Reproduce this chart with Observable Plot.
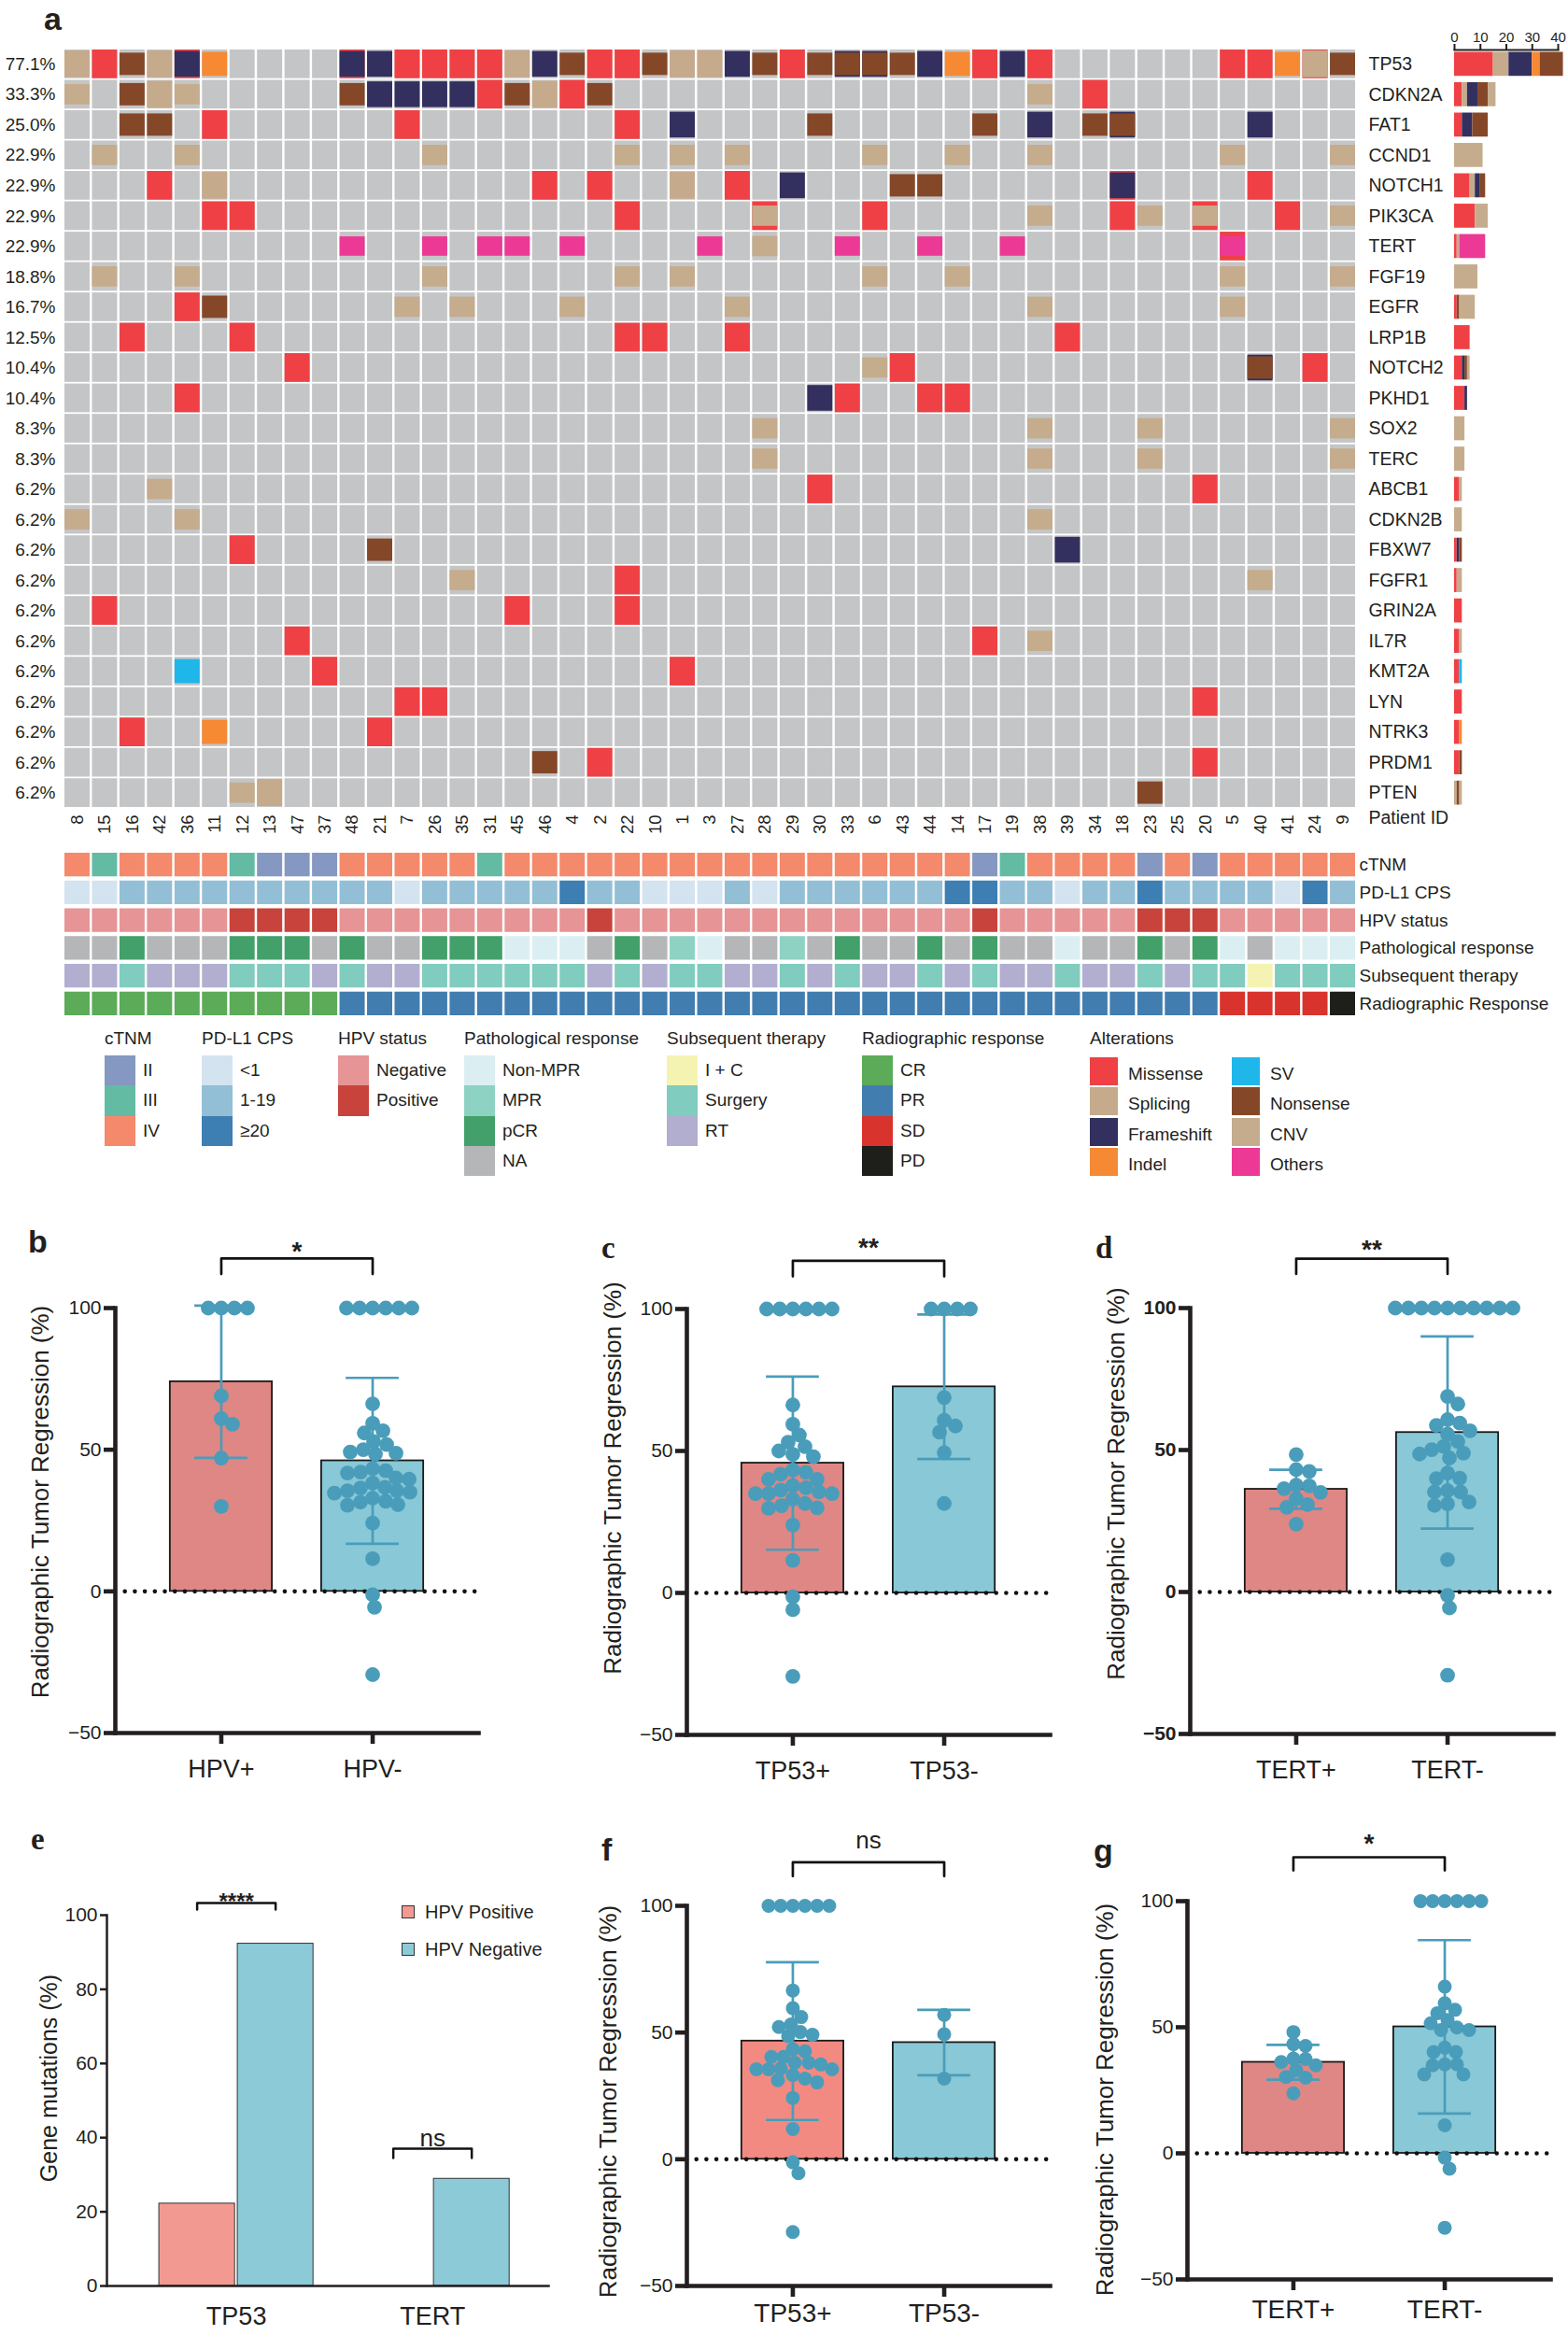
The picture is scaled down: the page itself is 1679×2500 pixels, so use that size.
<!DOCTYPE html>
<html><head><meta charset="utf-8">
<script src="https://cdn.jsdelivr.net/npm/d3@7"></script>
<script src="https://cdn.jsdelivr.net/npm/@observablehq/plot@0.6"></script>
<style>
body{margin:0;background:#fff;font-family:"Liberation Sans",Arial,Helvetica,sans-serif;color:#231f20;}
#page{position:relative;width:1679px;height:2500px;overflow:hidden;background:#fff;}
.letter{position:absolute;font-weight:bold;line-height:1;color:#231f20;}
.lgTitle{position:absolute;font-size:19px;line-height:24px;white-space:nowrap;}
.lgSw{position:absolute;}
.lgLab{position:absolute;font-size:19px;white-space:nowrap;}
</style></head><body><div id="page"></div>
<script>
// ---------------- DATA ----------------
const patients = ["8","15","16","42","36","11","12","13","47","37","48","21","7","26","35","31","45","46","4","2","22","10","1","3","27","28","29","30","33","6","43","44","14","17","19","38","39","34","18","23","25","20","5","40","41","24","9"];
const genes = ["TP53","CDKN2A","FAT1","CCND1","NOTCH1","PIK3CA","TERT","FGF19","EGFR","LRP1B","NOTCH2","PKHD1","SOX2","TERC","ABCB1","CDKN2B","FBXW7","FGFR1","GRIN2A","IL7R","KMT2A","LYN","NTRK3","PRDM1","PTEN"];
const pctLabels = ["77.1%","33.3%","25.0%","22.9%","22.9%","22.9%","22.9%","18.8%","16.7%","12.5%","10.4%","10.4%","8.3%","8.3%","6.2%","6.2%","6.2%","6.2%","6.2%","6.2%","6.2%","6.2%","6.2%","6.2%","6.2%"];
// one character per patient (order above): M missense, S splicing, F frameshift, I indel, V SV, N nonsense, C CNV, O others
const altRows = [
 "SMNSFI.... FFMMMMSFNM MNSSFNMNNN NFIMFM.... ..MMISN",
 "C.NSC..... NFFFFMNSMN .......... .....C.M.. .......",
 "..NN.M.... ..M....... M.F....N.. ...N.F.NN. ...F...",
 ".C..C..... ...C...... C.C.C....C ..C..C.... ..C...C",
 "...M.S.... .......M.M ..S.M.F... NN......F. ...M...",
 ".....MM... .......... M....C...M .....C..MC .C..M.C",
 ".......... O..O.OO.O. ...O.C..O. .O..O..... ..O....",
 ".C..C..... ...C...... C.C......C ..C....... ..C...C",
 "....MN.... ..C.C...C. ....C..... .....C.... ..C....",
 "..M...M... .......... MM..M..... ......M... .......",
 "........M. .......... .........C M......... ...N.M.",
 "....M..... .......... .......FM. .MM....... .......",
 ".......... .......... .....C.... .....C...C ......C",
 ".......... .......... .....C.... .....C...C ......C",
 "...C...... .......... .......M.. .......... .M.....",
 "C...C..... .......... .......... .....C.... .......",
 "......M... .N........ .......... ......F... .......",
 ".......... ....C..... M......... .......... ...C...",
 ".M........ ......M... M......... .......... .......",
 "........M. .......... .......... ...M.C.... .......",
 "....V....M .......... ..M....... .......... .......",
 ".......... ..MM...... .......... .......... .M.....",
 "..M..I.... .M........ .......... .......... .......",
 ".......... .......N.M .......... .......... .M.....",
 "......CS.. .......... .......... .........N ......."
];
const secondaryAlts = [["TP53","36","M"],["TP53","48","M"],["TP53","33","F"],["TP53","6","F"],["TP53","24","M"],["FAT1","18","F"],["NOTCH1","18","M"],["PIK3CA","28","M"],["PIK3CA","20","M"],["TERT","5","M"],["NOTCH2","40","F"]];
const altCodes = {M:"Missense",S:"Splicing",F:"Frameshift",I:"Indel",V:"SV",N:"Nonsense",C:"CNV",O:"Others"};
const altTypes = ["Missense","Splicing","Frameshift","Indel","SV","Nonsense","CNV","Others"];
const altColors = ["#ef4145","#c5aa8b","#33305f","#f68934","#1fb6ea","#844829","#c5ac8d","#ec3996"];

// annotation tracks (one character per patient)
const trackNames = ["cTNM","PD-L1 CPS","HPV status","Pathological response","Subsequent therapy","Radiographic Response"];
const cTNMCodes  = "4344443222 4444434444 4444444444 4442344442 4244444";
const pdl1Codes  = "aabbbbbbbb bbabbbbbcb baaababbbb bbccbbabbc bbbbacb";
const hpvCodes   = "NNNNNNPPPP NNNNNNNNNP NNNNNNNNNN NNNPNNNNNP PPNNNNN";
const pathCodes  = "xxpxxxpppx pxxpppnnnx pxmnxxmxpx xpxpxxnxxp xpnxnnn";
const subCodes   = "rrsrrrsssr srrssssssr srssrrsrsr rsrsrrsrrs rssisss";
const radioCodes = "CCCCCCCCCC PPPPPPPPPP PPPPPPPPPP PPPPPPPPPP PPSSSSD";
const cTNMLevels = ["II","III","IV"], cTNMKeys = ["2","3","4"], cTNMColors = ["#8598c1","#63bba4","#f5896b"];
const pdl1Levels = ["<1","1-19","≥20"], pdl1Keys = ["a","b","c"], pdl1Colors = ["#d4e3f0","#93bfd6","#3d7fb2"];
const hpvLevels = ["Negative","Positive"], hpvKeys = ["N","P"], hpvColors = ["#e69495","#c8433b"];
const pathLevels = ["Non-MPR","MPR","pCR","NA"], pathKeys = ["n","m","p","x"], pathColors = ["#dbeff3","#8ed2c3","#43a06a","#b5b6b8"];
const subLevels = ["I + C","Surgery","RT"], subKeys = ["i","s","r"], subColors = ["#f5f3b1","#80ccbe","#b1aed0"];
const radioLevels = ["CR","PR","SD","PD"], radioKeys = ["C","P","S","D"], radioColors = ["#5bab58","#427db0","#d9332e","#1e1e1b"];

// panels b-d, f-g: radiographic tumor regression (%)
const bGroups = ["HPV+","HPV-"];
const bHpvPos = [100,100,100,100,69,61,59,47,30];
const bHpvNeg = [100,100,100,100,100,100,66.2,59.3,56.7,55.9,52.9,51.8,50,49.2,48.8,48.5,43.3,42.6,42.1,41.8,40,39.6,38.2,36.7,36.5,35.5,35.5,35,34.7,32.9,31.8,31.5,30.4,30.6,24.1,11.5,-1.2,-5.6,-29.4];
const cGroups = ["TP53+","TP53-"];
const cTp53Pos = [100,100,100,100,100,100,66.2,59.4,55.6,53.1,51.5,50,48.8,48,43.3,42.5,41.8,40,40,37.8,37,36.2,35.6,35,35,35,33,31.5,30.7,30,29.8,23.9,11.5,-1.4,-5.9,-29.4];
const cTp53Neg = [100,100,100,100,68.8,60.8,58.8,56.6,49.4,31.5];
const dGroups = ["TERT+","TERT-"];
const dTertPos = [48.4,43.1,42.5,37.4,37.6,36.4,35.1,32.9,30.8,29.8,23.9];
const dTertNeg = [100,100,100,100,100,100,100,100,100,100,68.9,66.2,60.7,59.5,58.7,56.8,55.6,53,51.3,50.1,48.9,48.6,47.2,41.9,40.1,39.9,35.7,35.2,35.2,31.7,31,30.5,11.4,-1.2,-5.6,-29.3];
const fGroups = ["TP53+","TP53-"];
const fTp53Pos = [100,100,100,100,100,100,66.6,59.6,56.1,53.2,52.2,50.2,49.1,48.6,43.4,42.6,40.4,40.4,38.1,38.1,37.4,35.8,35.5,35.5,35.5,33.2,31.8,31.2,30.3,24.2,11.9,-1.2,-5.5,-28.7];
const fTp53Neg = [57,49.3,31.8];
const gGroups = ["TERT+","TERT-"];
const gTertPos = [48.1,43.3,42.6,37.6,37.4,36.2,34.9,33,30.3,30,23.8];
const gTertNeg = [100,100,100,100,100,100,66.1,59.5,56.9,55.6,52.9,51.6,49.9,48.9,48.9,41.9,40.2,40.2,35.3,35.3,34.9,31.3,31.3,11.1,-1.7,-6.1,-29.5];
// panel e: gene mutations (%)
const eGenes = ["TP53","TERT"];
const eHpvPos = [22.2, 0];
const eHpvNeg = [92.3, 28.9];

// ---------------- STYLE ----------------
const fontSans = '"Liberation Sans", Arial, Helvetica, sans-serif';
const fontSerif = '"Liberation Serif", "Times New Roman", serif';
const baseStyle = {fontFamily: fontSans, fontSize: "19px", color: "#231f20", background: "transparent", overflow: "visible", maxWidth: "none"};
const dotColor = "#4a9dba", salmon = "#df8784", blueBar = "#89c8d6";
const altInset = {Missense:0, Splicing:1, Frameshift:1.6, Indel:2.5, SV:2.5, Nonsense:3.4, CNV:4.5, Others:5};

const page = document.getElementById("page");
function place(node, left, top, width, height) {
  const div = document.createElement("div");
  div.style.cssText = `position:absolute;left:${left}px;top:${top}px;width:${width}px;height:${height}px;`;
  div.appendChild(node); page.appendChild(div); return div;
}
function addDiv(cls, css, text) {
  const d = document.createElement("div"); d.className = cls; d.style.cssText = css;
  if (text != null) d.textContent = text; page.appendChild(d); return d;
}
const clean = s => s.replace(/ /g, "").split("");

// ---------------- ONCOPRINT ----------------
const bgCells = d3.cross(genes, patients).map(([gene, patient]) => ({gene, patient}));
const alts = [];
secondaryAlts.forEach(([gene, patient, c]) => alts.push({gene, patient, type: altCodes[c]}));
genes.forEach((gene, gi) => clean(altRows[gi]).forEach((c, pi) => { if (c !== ".") alts.push({gene, patient: patients[pi], type: altCodes[c]}); }));
const altCounts = [];
genes.forEach(gene => altTypes.forEach(type => {
  const n = alts.filter(d => d.gene === gene && d.type === type).length;
  if (n) altCounts.push({gene, type, n});
}));

const onco = Plot.plot({
  width: 1679, height: 900, marginLeft: 69, marginRight: 228, marginTop: 53, marginBottom: 36,
  style: baseStyle,
  x: {type: "band", domain: patients, paddingInner: 0.085, paddingOuter: 0, round: false},
  y: {type: "band", domain: genes, paddingInner: 0.055, paddingOuter: 0, round: false},
  color: {domain: altTypes, range: altColors},
  marks: [
    Plot.cell(bgCells, {x: "patient", y: "gene", fill: "#c4c5c7", inset: 0}),
    ...altTypes.map(t => Plot.cell(alts.filter(d => d.type === t), {x: "patient", y: "gene", fill: "type", inset: 0, insetTop: altInset[t], insetBottom: altInset[t]})),
    Plot.axisY({anchor: "left", tickSize: 0, tickPadding: 10, tickFormat: g => pctLabels[genes.indexOf(g)], fontSize: 19, label: null}),
    Plot.axisY({anchor: "right", tickSize: 0, tickPadding: 14, fontSize: 19.5, label: null}),
    Plot.axisX({anchor: "bottom", tickSize: 0, tickPadding: 8, tickRotate: -90, fontSize: 18.5, label: null}),
    Plot.text(["Patient ID"], {frameAnchor: "bottom-right", textAnchor: "start", dx: 14, dy: 17, fontSize: 19.5})
  ]
});
place(onco, 0, 0, 1679, 900);

const rbar = Plot.plot({
  width: 139, height: 900, marginLeft: 17, marginRight: 11, marginTop: 53, marginBottom: 36,
  style: baseStyle,
  x: {domain: [0, 40]},
  y: {type: "band", domain: genes, paddingInner: 0.055, paddingOuter: 0, round: false, axis: null},
  color: {domain: altTypes, range: altColors},
  marks: [
    Plot.barX(altCounts, {y: "gene", x: "n", fill: "type", insetTop: 2.5, insetBottom: 2.5}),
    Plot.frame({anchor: "top", strokeWidth: 2}),
    Plot.axisX({anchor: "top", ticks: [0, 10, 20, 30, 40], tickSize: 7, tickPadding: 2, strokeWidth: 2, fontSize: 15, label: null})
  ]
});
place(rbar, 1540, 0, 139, 900);

// ---------------- ANNOTATION TRACKS ----------------
const tracks = [
  [cTNMCodes, cTNMKeys, cTNMLevels, cTNMColors],
  [pdl1Codes, pdl1Keys, pdl1Levels, pdl1Colors],
  [hpvCodes, hpvKeys, hpvLevels, hpvColors],
  [pathCodes, pathKeys, pathLevels, pathColors],
  [subCodes, subKeys, subLevels, subColors],
  [radioCodes, radioKeys, radioLevels, radioColors]
];
const trackCells = [];
tracks.forEach(([codes, keys, levels, colors], ti) => clean(codes).forEach((c, pi) => {
  const k = keys.indexOf(c);
  trackCells.push({track: trackNames[ti], patient: patients[pi], value: levels[k], color: colors[k]});
}));
const annot = Plot.plot({
  width: 1679, height: 210, marginLeft: 69, marginRight: 228, marginTop: 23, marginBottom: 13,
  style: baseStyle,
  x: {type: "band", domain: patients, paddingInner: 0.085, paddingOuter: 0, round: false, axis: null},
  y: {type: "band", domain: trackNames, paddingInner: 0.15, paddingOuter: 0, round: false},
  color: {type: "identity"},
  marks: [
    Plot.cell(trackCells, {x: "patient", y: "track", fill: "color", inset: 0}),
    Plot.axisY({anchor: "right", tickSize: 0, tickPadding: 4, fontSize: 19, label: null})
  ]
});
place(annot, 0, 890, 1679, 210);

// ---------------- LEGEND (panel a) ----------------
const legendTitles = ["cTNM","PD-L1 CPS","HPV status","Pathological response","Subsequent therapy","Radiographic response"];
const legendX = [112, 216, 362, 497, 714, 923];
tracks.forEach(([codes, keys, levels, colors], ti) => {
  const x = legendX[ti];
  addDiv("lgTitle", `left:${x}px;top:1100px;`, legendTitles[ti]);
  levels.forEach((lab, j) => {
    const top = 1130 + j * 32.3;
    addDiv("lgSw", `left:${x}px;top:${top}px;width:33px;height:32.3px;background:${colors[j]};`);
    addDiv("lgLab", `left:${x + 41}px;top:${top}px;line-height:32.3px;`, lab);
  });
});
addDiv("lgTitle", "left:1167px;top:1100px;", "Alterations");
altTypes.forEach((t, j) => {
  const x = j < 4 ? 1167 : 1319, top = 1132 + (j % 4) * 32.3;
  addDiv("lgSw", `left:${x}px;top:${top}px;width:30px;height:30px;background:${altColors[j]};`);
  addDiv("lgLab", `left:${x + 41}px;top:${top + 3}px;line-height:30px;`, t);
});

// ---------------- DOT + BAR PANELS ----------------
function swarmOffsets(vals, pxPerUnit, minDist) {
  const idx = d3.range(vals.length).sort((a, b) => d3.descending(vals[a], vals[b]));
  const placed = [], out = new Array(vals.length);
  for (const i of idx) {
    const y = vals[i] * pxPerUnit;
    let best = 0;
    for (let k = 0; k < 600; k++) {
      const c = (k % 2 ? 1 : -1) * Math.ceil(k / 2);
      if (placed.every(p => (p.x - c) ** 2 + (p.y - y) ** 2 >= minDist * minDist)) { best = c; break; }
    }
    placed.push({x: best, y}); out[i] = best;
  }
  return out;
}
const yLabel = "Radiographic Tumor Regression (%)";
function dotBar(o) {
  const dom = [-0.7, 1.7];
  const fw = o.width - o.ml - o.mr, fh = o.height - o.mt - o.mb;
  const pxX = fw / (dom[1] - dom[0]), pxY = fh / 150;
  const pts = [];
  o.values.forEach((vals, g) => {
    const off = swarmOffsets(vals, pxY, o.r * 1.7);
    vals.forEach((v, j) => pts.push({g, v, x: g + off[j] / pxX}));
  });
  const stats = o.values.map((vals, g) => {
    const m = d3.mean(vals), s = d3.deviation(vals);
    return {g, mean: m, lo: m - s, hi: m + s, fill: o.barColors[g]};
  });
  const caps = stats.flatMap(s => [{g: s.g, y: s.lo}, {g: s.g, y: s.hi}]);
  const half = 0.337, cap = 0.175;
  const p = Plot.plot({
    width: o.width, height: o.height, marginLeft: o.ml, marginRight: o.mr, marginTop: o.mt, marginBottom: o.mb,
    style: baseStyle,
    x: {domain: dom},
    y: {domain: [-50, 100]},
    color: {type: "identity"},
    marks: [
      Plot.rectY(stats, {x1: d => d.g - half, x2: d => d.g + half, y1: () => 0, y2: "mean", fill: "fill", stroke: "#1a1a1a", strokeWidth: 1.8}),
      Plot.ruleY([0], {stroke: "#111", strokeWidth: 4.6, strokeDasharray: "0 10.7", strokeLinecap: "round"}),
      Plot.ruleX(stats, {x: "g", y1: "lo", y2: "hi", stroke: dotColor, strokeWidth: 2.7}),
      Plot.ruleY(caps, {y: "y", x1: d => d.g - cap, x2: d => d.g + cap, stroke: dotColor, strokeWidth: 2.7}),
      Plot.dot(pts, {x: "x", y: "v", r: o.r, fill: dotColor, stroke: "none"}),
      Plot.frame({anchor: "left", strokeWidth: 4.6, strokeLinecap: "square"}),
      Plot.frame({anchor: "bottom", strokeWidth: 4.6, strokeLinecap: "square"}),
      Plot.axisY({ticks: [-50, 0, 50, 100], tickSize: 12, tickPadding: 3, strokeWidth: 4.6, fontSize: 21, fontWeight: o.tickBold ? "bold" : "normal", label: null}),
      Plot.axisX({ticks: [0, 1], tickFormat: i => o.groups[i], tickSize: 12, tickPadding: o.xPad, strokeWidth: 4.6, fontSize: o.xFont, label: null}),
      Plot.line([[0, o.sig[1]], [0, o.sig[0]], [1, o.sig[0]], [1, o.sig[1]]], {stroke: "#111", strokeWidth: 2.7}),
      Plot.text([o.sigText], {x: () => 0.5, y: () => o.sig[2], fontSize: o.sigSize, fontWeight: o.sigBold ? "bold" : "normal"}),
      Plot.text([yLabel], {frameAnchor: "left", textAnchor: "middle", rotate: -90, dx: o.ldx, dy: o.ldy, fontSize: 26})
    ]
  });
  place(p, o.left, o.top, o.width, o.height);
}
dotBar({left: 0, top: 1300, width: 560, height: 620, ml: 123, mr: 48, mt: 100, mb: 65, r: 7.9,
  groups: bGroups, values: [bHpvPos, bHpvNeg], barColors: [salmon, blueBar], tickBold: false, xFont: 27, xPad: 16,
  sig: [117.5, 112, 120], sigText: "*", sigSize: 28, sigBold: true, ldx: -80, ldy: -20});
dotBar({left: 560, top: 1300, width: 580, height: 620, ml: 175, mr: 16, mt: 101, mb: 63, r: 7.9,
  groups: cGroups, values: [cTp53Pos, cTp53Neg], barColors: [salmon, blueBar], tickBold: false, xFont: 27, xPad: 16,
  sig: [117, 111.5, 121.5], sigText: "**", sigSize: 28, sigBold: true, ldx: -79, ldy: -47});
dotBar({left: 1119, top: 1300, width: 560, height: 620, ml: 155, mr: 16, mt: 100, mb: 64, r: 7.9,
  groups: dGroups, values: [dTertPos, dTertNeg], barColors: [salmon, blueBar], tickBold: true, xFont: 27, xPad: 16,
  sig: [117.4, 112, 120.5], sigText: "**", sigSize: 28, sigBold: true, ldx: -79, ldy: -40});
dotBar({left: 560, top: 1940, width: 580, height: 560, ml: 175, mr: 16, mt: 100, mb: 53, r: 7.5,
  groups: fGroups, values: [fTp53Pos, fTp53Neg], barColors: ["#f28a82", blueBar], tickBold: false, xFont: 28, xPad: 7,
  sig: [117.2, 111.7, 125.8], sigText: "ns", sigSize: 26, sigBold: false, ldx: -84, ldy: 6});
dotBar({left: 1119, top: 1940, width: 560, height: 560, ml: 152, mr: 19, mt: 95, mb: 60, r: 7.5,
  groups: gGroups, values: [gTertPos, gTertNeg], barColors: [salmon, blueBar], tickBold: false, xFont: 28, xPad: 10,
  sig: [117.4, 112.2, 122.6], sigText: "*", sigSize: 28, sigBold: true, ldx: -88, ldy: 10});

// ---------------- PANEL e ----------------
const eBars = [];
eGenes.forEach((gene, g) => {
  eBars.push({g, x1: g - 0.393, x2: g - 0.007, v: eHpvPos[g], fill: "#f29a92"});
  eBars.push({g, x1: g + 0.007, x2: g + 0.393, v: eHpvNeg[g], fill: "#8ccad8"});
});
const eSig = [[0, 103.3, 101.5, 103.6, "****", true], [1, 37, 34.5, 39.8, "ns", false]];
const eplot = Plot.plot({
  width: 600, height: 500, marginLeft: 114, marginRight: 13, marginTop: 50, marginBottom: 53,
  style: baseStyle,
  x: {domain: [-0.66, 1.592]},
  y: {domain: [0, 100]},
  color: {type: "identity"},
  marks: [
    Plot.rectY(eBars, {x1: "x1", x2: "x2", y1: () => 0, y2: "v", fill: "fill", stroke: "#333", strokeWidth: 1}),
    Plot.frame({anchor: "left", strokeWidth: 2.5, strokeLinecap: "square"}),
    Plot.frame({anchor: "bottom", strokeWidth: 2.5, strokeLinecap: "square"}),
    Plot.axisY({ticks: [0, 20, 40, 60, 80, 100], tickSize: 7, tickPadding: 3, strokeWidth: 2.5, fontSize: 21, label: null}),
    Plot.axisX({ticks: [0, 1], tickFormat: i => eGenes[i], tickSize: 0, tickPadding: 22, fontSize: 27, label: null}),
    ...eSig.map(([g, top, leg]) => Plot.line([[g - 0.2, leg], [g - 0.2, top], [g + 0.2, top], [g + 0.2, leg]], {stroke: "#111", strokeWidth: 2.5})),
    ...eSig.map(([g, top, leg, ty, txt, bold]) => Plot.text([txt], {x: () => g, y: () => ty, fontSize: bold ? 24 : 26, fontWeight: bold ? "bold" : "normal"})),
    Plot.text(["Gene mutations (%)"], {frameAnchor: "left", textAnchor: "middle", rotate: -90, dx: -62, dy: -24, fontSize: 25})
  ]
});
place(eplot, 0, 2000, 600, 500);
[["HPV Positive", "#f29a92", 2047], ["HPV Negative", "#8ccad8", 2087]].forEach(([lab, col, cy]) => {
  addDiv("lgSw", `left:430px;top:${cy - 7}px;width:12px;height:12px;background:${col};border:1.5px solid #333;`);
  addDiv("lgLab", `left:455px;top:${cy - 12}px;line-height:24px;font-size:20px;`, lab);
});

// ---------------- PANEL LETTERS ----------------
addDiv("letter", `left:47px;top:3px;font-size:34px;font-family:${fontSans};`, "a");
addDiv("letter", `left:30px;top:1312px;font-size:34px;font-family:${fontSans};`, "b");
addDiv("letter", `left:644px;top:1320px;font-size:33px;font-family:${fontSerif};`, "c");
addDiv("letter", `left:1173px;top:1320px;font-size:33px;font-family:${fontSerif};`, "d");
addDiv("letter", `left:33px;top:1953px;font-size:33px;font-family:${fontSerif};`, "e");
addDiv("letter", `left:644px;top:1963px;font-size:34px;font-family:${fontSans};`, "f");
addDiv("letter", `left:1171px;top:1964px;font-size:34px;font-family:${fontSans};`, "g");
</script></body></html>
